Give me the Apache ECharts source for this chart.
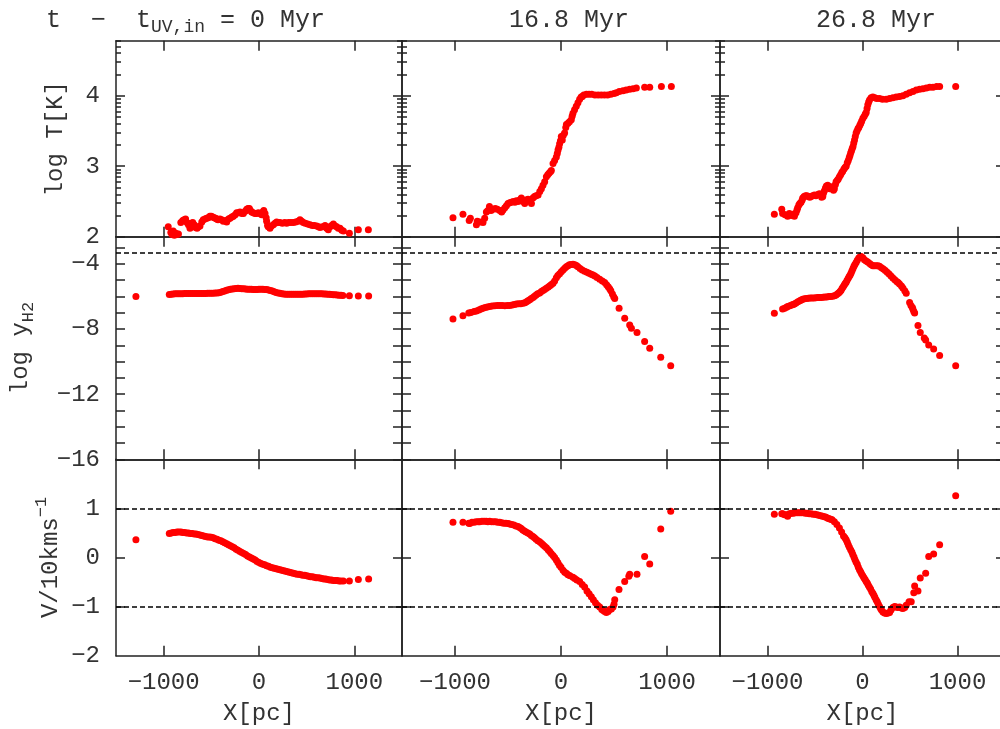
<!DOCTYPE html>
<html>
<head>
<meta charset="utf-8">
<script src="https://cdn.jsdelivr.net/npm/echarts@6/dist/echarts.min.js"></script>
<style>
  html, body { margin: 0; padding: 0; background: #fff; }
  #chart { width: 1000px; height: 729px; }
</style>
</head>
<body>
<div id="chart"></div>
<script>
const FONT = 'Liberation Mono'
const INK = '#222'
const TXT = '#333'

// axis ticks / labels
const xTicks = [-1000, 0, 1000]
const tempTicks = [2, 3, 4]
const h2Ticks = [-16, -15, -14, -13, -12, -11, -10, -9, -8, -7, -6, -5, -4, -3]
const h2Labels = [-16, -12, -8, -4]
const velTicks = [-1, 0, 1]
const velLabels = [-2, -1, 0, 1]
const h2Limit = [-3.3]
const velLimits = [-1, 1]
const titles = ['0', '16.8 Myr', '26.8 Myr']

// log T [K]  (x in pc)
const temp0 = [[-952,2.14],[-925,2.06],[-912,2.03],[-900,2.08],[-888,2.02],[-872,2.05],[-860,2.03],[-845,2.04],[-820,2.2],[-800,2.23],[-785,2.24],[-770,2.25],[-755,2.2],[-740,2.17],[-724,2.12],[-710,2.19],[-695,2.2],[-680,2.17],[-665,2.13],[-650,2.12],[-635,2.14],[-619,2.15],[-600,2.21],[-585,2.24],[-567,2.25],[-550,2.26],[-532,2.27],[-515,2.29],[-500,2.29],[-486,2.28],[-470,2.27],[-455,2.26],[-444,2.25],[-430,2.24],[-410,2.25],[-392,2.24],[-375,2.22],[-355,2.23],[-339,2.21],[-320,2.25],[-304,2.26],[-285,2.28],[-269,2.29],[-250,2.31],[-234,2.34],[-215,2.34],[-199,2.35],[-180,2.33],[-164,2.33],[-145,2.36],[-129,2.39],[-115,2.4],[-101,2.4],[-90,2.37],[-77,2.35],[-60,2.34],[-42,2.33],[-25,2.33],[-7,2.34],[10,2.33],[28,2.31],[40,2.35],[50,2.37],[63,2.33],[75,2.27],[80,2.22],[90,2.16],[98,2.14],[115,2.12],[130,2.15],[150,2.17],[168,2.19],[185,2.21],[200,2.2],[220,2.2],[245,2.19],[270,2.2],[290,2.19],[310,2.2],[335,2.2],[360,2.2],[385,2.21],[410,2.22],[430,2.24],[448,2.22],[465,2.2],[485,2.19],[510,2.18],[535,2.17],[560,2.16],[580,2.16],[605,2.15],[625,2.14],[640,2.13],[665,2.14],[693,2.16],[710,2.12],[727,2.1],[745,2.14],[762,2.16],[780,2.18],[798,2.15],[815,2.14],[832,2.12],[850,2.12],[868,2.09],[885,2.08],[948,2.05],[1042,2.1],[1147,2.1]]
const temp16 = [[-1019,2.27],[-925,2.32],[-866,2.23],[-855,2.26],[-798,2.17],[-790,2.22],[-765,2.21],[-736,2.2],[-720,2.26],[-704,2.35],[-690,2.37],[-675,2.43],[-660,2.37],[-640,2.39],[-620,2.4],[-600,2.39],[-578,2.37],[-560,2.35],[-547,2.38],[-530,2.41],[-515,2.44],[-500,2.47],[-484,2.48],[-468,2.49],[-450,2.5],[-435,2.49],[-421,2.51],[-405,2.5],[-390,2.52],[-374,2.55],[-358,2.5],[-342,2.47],[-330,2.52],[-311,2.53],[-295,2.51],[-279,2.47],[-265,2.55],[-250,2.57],[-235,2.58],[-216,2.59],[-200,2.64],[-185,2.68],[-170,2.73],[-154,2.78],[-138,2.85],[-125,2.88],[-113,2.9],[-100,2.92],[-91,2.94],[-75,3.04],[-60,3.08],[-44,3.13],[-35,3.18],[-28,3.23],[-20,3.27],[-13,3.32],[-5,3.36],[3,3.42],[12,3.37],[22,3.44],[34,3.47],[45,3.55],[51,3.59],[66,3.61],[80,3.63],[97,3.66],[105,3.71],[113,3.75],[128,3.8],[144,3.85],[160,3.9],[176,3.95],[190,3.98],[201,3.99],[215,4.01],[240,4.02],[265,4.02],[290,4.02],[320,4.01],[350,4.01],[380,4.01],[410,4.01],[440,4.01],[470,4.02],[500,4.03],[522,4.04],[550,4.06],[585,4.07],[615,4.08],[648,4.09],[680,4.1],[711,4.11],[789,4.12],[837,4.12],[947,4.13],[1041,4.13]]
const temp26 = [[-928,2.32],[-850,2.39],[-841,2.33],[-815,2.31],[-788,2.29],[-770,2.33],[-750,2.3],[-735,2.32],[-717,2.29],[-700,2.34],[-690,2.38],[-682,2.41],[-670,2.45],[-660,2.47],[-647,2.49],[-635,2.52],[-629,2.55],[-615,2.57],[-600,2.58],[-585,2.58],[-570,2.57],[-555,2.56],[-542,2.57],[-525,2.58],[-506,2.59],[-490,2.58],[-470,2.6],[-454,2.61],[-440,2.59],[-430,2.56],[-418,2.57],[-410,2.62],[-401,2.65],[-390,2.69],[-380,2.72],[-366,2.73],[-355,2.7],[-345,2.68],[-331,2.71],[-320,2.69],[-305,2.66],[-296,2.68],[-285,2.74],[-278,2.78],[-265,2.8],[-255,2.82],[-243,2.85],[-230,2.88],[-218,2.91],[-208,2.93],[-195,2.96],[-184,2.98],[-172,3.0],[-160,3.05],[-150,3.08],[-140,3.12],[-132,3.15],[-124,3.19],[-116,3.22],[-108,3.25],[-100,3.28],[-92,3.33],[-84,3.37],[-76,3.42],[-67,3.47],[-58,3.5],[-48,3.53],[-39,3.55],[-28,3.58],[-18,3.61],[-8,3.64],[4,3.68],[18,3.71],[30,3.74],[39,3.76],[48,3.82],[56,3.87],[65,3.91],[74,3.94],[90,3.97],[109,3.98],[130,3.97],[150,3.96],[179,3.96],[210,3.95],[250,3.95],[285,3.96],[320,3.97],[355,3.98],[390,3.99],[425,4.0],[460,4.02],[495,4.04],[531,4.06],[566,4.08],[601,4.09],[636,4.1],[672,4.11],[707,4.12],[742,4.12],[780,4.13],[812,4.13],[981,4.13]]

// log y_H2
const h2a = [[-1291,-6.0],[-941,-5.88],[-920,-5.86],[-900,-5.85],[-880,-5.84],[-860,-5.84],[-840,-5.83],[-820,-5.83],[-800,-5.83],[-780,-5.82],[-760,-5.82],[-740,-5.82],[-720,-5.82],[-700,-5.82],[-680,-5.82],[-660,-5.82],[-640,-5.82],[-620,-5.82],[-600,-5.82],[-580,-5.82],[-560,-5.82],[-540,-5.81],[-520,-5.81],[-500,-5.8],[-480,-5.8],[-460,-5.79],[-440,-5.78],[-420,-5.77],[-400,-5.74],[-380,-5.7],[-360,-5.66],[-340,-5.62],[-320,-5.59],[-300,-5.56],[-280,-5.54],[-260,-5.52],[-240,-5.51],[-220,-5.5],[-200,-5.51],[-180,-5.52],[-160,-5.53],[-140,-5.54],[-120,-5.55],[-100,-5.56],[-80,-5.56],[-60,-5.57],[-40,-5.57],[-20,-5.57],[0,-5.56],[20,-5.56],[40,-5.56],[60,-5.57],[80,-5.58],[100,-5.6],[120,-5.63],[140,-5.67],[160,-5.71],[180,-5.75],[200,-5.78],[220,-5.81],[240,-5.83],[260,-5.85],[280,-5.86],[300,-5.87],[320,-5.87],[340,-5.87],[360,-5.87],[380,-5.87],[400,-5.87],[420,-5.87],[440,-5.86],[460,-5.86],[480,-5.85],[500,-5.85],[520,-5.84],[540,-5.84],[560,-5.84],[580,-5.84],[600,-5.84],[620,-5.84],[640,-5.84],[660,-5.84],[680,-5.85],[700,-5.85],[720,-5.86],[740,-5.87],[760,-5.88],[780,-5.89],[800,-5.9],[820,-5.91],[840,-5.92],[860,-5.93],[880,-5.94],[948,-5.96],[1042,-5.97],[1150,-5.97]]
const h2b = [[-1019,-7.38],[-925,-7.19],[-870,-7.02],[-850,-6.99],[-820,-6.93],[-798,-6.89],[-775,-6.83],[-755,-6.77],[-736,-6.72],[-715,-6.68],[-695,-6.64],[-673,-6.62],[-650,-6.59],[-625,-6.57],[-600,-6.56],[-578,-6.56],[-555,-6.56],[-530,-6.57],[-505,-6.56],[-484,-6.55],[-460,-6.52],[-440,-6.49],[-421,-6.47],[-400,-6.45],[-380,-6.44],[-358,-6.42],[-340,-6.38],[-325,-6.33],[-311,-6.27],[-295,-6.2],[-280,-6.13],[-264,-6.06],[-250,-5.99],[-235,-5.91],[-220,-5.84],[-201,-5.78],[-185,-5.7],[-170,-5.63],[-155,-5.57],[-138,-5.5],[-120,-5.42],[-105,-5.34],[-90,-5.27],[-75,-5.19],[-60,-5.05],[-44,-4.85],[-30,-4.72],[-13,-4.6],[3,-4.48],[19,-4.37],[35,-4.26],[50,-4.18],[66,-4.11],[80,-4.06],[95,-4.03],[113,-4.02],[130,-4.05],[145,-4.1],[160,-4.17],[180,-4.28],[200,-4.37],[223,-4.45],[245,-4.52],[265,-4.58],[285,-4.63],[302,-4.68],[320,-4.75],[340,-4.84],[365,-4.95],[390,-5.05],[412,-5.15],[430,-5.28],[445,-5.4],[459,-5.52],[470,-5.65],[485,-5.85],[497,-6.02],[507,-6.12],[548,-6.72],[601,-7.34],[648,-7.75],[664,-7.95],[717,-8.22],[789,-8.77],[837,-9.18],[941,-9.73],[1035,-10.25]]
const h2c = [[-928,-7.03],[-841,-6.77],[-820,-6.72],[-800,-6.66],[-788,-6.62],[-765,-6.57],[-745,-6.52],[-730,-6.5],[-717,-6.46],[-700,-6.4],[-680,-6.33],[-660,-6.27],[-645,-6.22],[-629,-6.17],[-610,-6.14],[-590,-6.12],[-570,-6.11],[-550,-6.1],[-530,-6.09],[-510,-6.09],[-490,-6.08],[-470,-6.07],[-454,-6.07],[-435,-6.06],[-415,-6.05],[-395,-6.04],[-375,-6.03],[-355,-6.01],[-335,-6.0],[-315,-5.99],[-295,-5.96],[-278,-5.91],[-262,-5.84],[-248,-5.77],[-236,-5.7],[-225,-5.62],[-214,-5.5],[-203,-5.4],[-192,-5.3],[-182,-5.21],[-172,-5.12],[-162,-5.0],[-150,-4.88],[-140,-4.78],[-130,-4.68],[-120,-4.56],[-110,-4.42],[-100,-4.28],[-90,-4.15],[-80,-4.04],[-67,-3.92],[-55,-3.78],[-40,-3.64],[-25,-3.56],[-14,-3.54],[4,-3.62],[20,-3.74],[38,-3.82],[56,-3.88],[75,-3.97],[92,-4.05],[109,-4.12],[125,-4.12],[145,-4.11],[162,-4.12],[179,-4.14],[200,-4.23],[220,-4.32],[240,-4.41],[260,-4.51],[280,-4.62],[300,-4.74],[320,-4.87],[340,-4.98],[360,-5.08],[375,-5.15],[390,-5.23],[410,-5.36],[425,-5.48],[445,-5.65],[460,-5.8],[496,-6.37],[510,-6.55],[525,-6.68],[531,-6.78],[540,-6.92],[549,-7.02],[584,-7.79],[608,-8.22],[650,-8.55],[665,-8.67],[697,-8.98],[749,-9.22],[812,-9.63],[981,-10.25]]

// V / 10 km/s
const vel0 = [[-1291,0.36],[-941,0.49],[-920,0.5],[-900,0.51],[-880,0.51],[-860,0.52],[-840,0.52],[-818,0.52],[-800,0.51],[-780,0.51],[-760,0.5],[-740,0.5],[-720,0.49],[-700,0.49],[-680,0.48],[-660,0.48],[-640,0.47],[-619,0.46],[-600,0.45],[-580,0.44],[-560,0.43],[-540,0.42],[-520,0.42],[-500,0.41],[-479,0.4],[-460,0.38],[-440,0.37],[-420,0.35],[-400,0.34],[-380,0.32],[-360,0.3],[-339,0.28],[-320,0.26],[-300,0.24],[-280,0.22],[-260,0.2],[-240,0.17],[-220,0.15],[-199,0.12],[-180,0.1],[-160,0.08],[-140,0.06],[-120,0.03],[-100,0.01],[-80,-0.01],[-60,-0.03],[-40,-0.05],[-20,-0.08],[0,-0.1],[20,-0.12],[40,-0.14],[60,-0.15],[80,-0.17],[100,-0.18],[120,-0.2],[140,-0.21],[160,-0.22],[180,-0.23],[200,-0.24],[220,-0.25],[240,-0.26],[260,-0.27],[280,-0.28],[300,-0.29],[320,-0.3],[340,-0.31],[360,-0.32],[380,-0.33],[400,-0.34],[420,-0.34],[440,-0.35],[460,-0.36],[480,-0.36],[500,-0.37],[520,-0.38],[540,-0.39],[560,-0.39],[580,-0.4],[600,-0.41],[620,-0.41],[640,-0.42],[660,-0.43],[680,-0.44],[700,-0.44],[720,-0.45],[740,-0.46],[760,-0.46],[780,-0.47],[800,-0.47],[820,-0.47],[840,-0.48],[860,-0.48],[885,-0.48],[948,-0.48],[1042,-0.45],[1150,-0.44]]
const vel16 = [[-1019,0.72],[-925,0.72],[-870,0.7],[-861,0.69],[-840,0.72],[-820,0.72],[-800,0.73],[-780,0.73],[-767,0.73],[-745,0.74],[-725,0.74],[-705,0.74],[-690,0.73],[-673,0.74],[-655,0.73],[-635,0.73],[-615,0.73],[-597,0.72],[-578,0.72],[-560,0.71],[-540,0.7],[-520,0.7],[-500,0.69],[-484,0.68],[-465,0.67],[-445,0.66],[-425,0.64],[-405,0.63],[-390,0.61],[-375,0.59],[-360,0.56],[-345,0.54],[-330,0.52],[-312,0.5],[-295,0.48],[-280,0.45],[-265,0.43],[-250,0.4],[-235,0.37],[-218,0.34],[-201,0.32],[-185,0.29],[-170,0.26],[-155,0.23],[-138,0.2],[-122,0.16],[-107,0.12],[-92,0.08],[-75,0.04],[-60,0.0],[-44,-0.05],[-30,-0.1],[-15,-0.16],[0,-0.2],[19,-0.26],[35,-0.3],[51,-0.32],[66,-0.35],[85,-0.37],[113,-0.4],[130,-0.43],[150,-0.46],[176,-0.49],[200,-0.55],[223,-0.6],[245,-0.68],[265,-0.74],[286,-0.8],[305,-0.86],[325,-0.92],[345,-0.97],[365,-1.01],[385,-1.06],[400,-1.08],[412,-1.1],[428,-1.12],[445,-1.1],[459,-1.06],[475,-1.05],[491,-1.01],[500,-0.95],[507,-0.86],[547,-0.65],[601,-0.49],[640,-0.38],[648,-0.34],[717,-0.34],[789,0.02],[837,-0.13],[941,0.58],[1035,0.94]]
const vel26 = [[-928,0.88],[-850,0.89],[-841,0.89],[-820,0.87],[-800,0.87],[-788,0.84],[-770,0.89],[-750,0.9],[-730,0.9],[-715,0.91],[-700,0.91],[-680,0.91],[-660,0.91],[-640,0.91],[-620,0.91],[-600,0.9],[-580,0.9],[-560,0.89],[-540,0.89],[-520,0.88],[-500,0.88],[-480,0.87],[-460,0.86],[-440,0.85],[-420,0.84],[-400,0.83],[-383,0.82],[-365,0.8],[-350,0.79],[-335,0.78],[-320,0.77],[-296,0.73],[-270,0.67],[-243,0.6],[-220,0.52],[-200,0.44],[-185,0.4],[-172,0.36],[-160,0.31],[-150,0.26],[-138,0.21],[-125,0.16],[-112,0.11],[-102,0.06],[-90,0.01],[-80,-0.04],[-68,-0.09],[-55,-0.14],[-44,-0.2],[-32,-0.25],[-20,-0.29],[-10,-0.33],[3,-0.37],[15,-0.41],[27,-0.45],[39,-0.49],[50,-0.52],[60,-0.56],[72,-0.6],[85,-0.64],[97,-0.69],[109,-0.73],[120,-0.77],[130,-0.81],[143,-0.86],[155,-0.9],[167,-0.95],[179,-1.0],[190,-1.04],[200,-1.07],[215,-1.11],[232,-1.13],[250,-1.14],[270,-1.13],[285,-1.12],[300,-1.07],[320,-1.02],[338,-1.0],[355,-1.01],[372,-1.02],[390,-1.01],[410,-1.03],[425,-1.04],[445,-1.02],[460,-0.97],[490,-0.9],[513,-0.9],[540,-0.72],[549,-0.58],[584,-0.68],[608,-0.42],[665,-0.32],[697,0.02],[749,0.07],[812,0.26],[981,1.26]]

const panelData = [[temp0, temp16, temp26], [h2a, h2b, h2c], [vel0, vel16, vel26]]

// layout (px)
const cols = [{ left: 116, width: 286 }, { left: 402, width: 318 }, { left: 720, width: 285 }]
const rows = [{ top: 40.7, height: 196 }, { top: 236.7, height: 222.6 }, { top: 459.3, height: 196.4 }]
const yRange = [[2, 4.78], [-16, -2.33], [-2, 2]]

// log-spaced minor ticks of the temperature axis
const tempMinor = []
tempTicks.forEach(n => {
  for (let k = 2; k <= 9; k++) {
    const v = n + Math.log10(k)
    if (v < yRange[0][1]) tempMinor.push(v)
  }
})

const minus = v => (v < 0 ? '\u2212' + Math.abs(v) : String(v))
const lineStyle = { color: INK, width: 1.5 }
const labelStyle = { fontFamily: FONT, fontSize: 24, color: TXT, fontWeight: 'normal' }

const majorTicks = [tempTicks, h2Ticks, velTicks]
const yLabels = [tempTicks, h2Labels, velLabels]
const yNames = ['log T[K]', '{a|log y}{s|H2}', '{a|V/10kms}{p|\u22121}']
const yGaps = [48, 80, 50]

const grid = []
const xAxis = []
const yAxis = []
const series = []

rows.forEach((row, r) => {
  cols.forEach((col, c) => {
    const g = grid.length
    grid.push({ left: col.left, top: row.top, width: col.width, height: row.height, outerBoundsMode: 'none', containLabel: false })

    const xi = xAxis.length
    ;['bottom', 'top'].forEach(pos => {
      const showLab = pos === 'bottom' && r === 2
      xAxis.push({
        type: 'value', gridIndex: g, position: pos, min: -1500, max: 1500,
        axisLine: { show: true, onZero: false, lineStyle },
        axisTick: { show: true, inside: true, length: 10, customValues: xTicks, lineStyle },
        axisLabel: Object.assign({ show: showLab, customValues: xTicks, margin: 15, formatter: minus }, labelStyle),
        splitLine: { show: false },
        name: showLab ? 'X[pc]' : '',
        nameLocation: 'middle', nameGap: 46, nameTextStyle: labelStyle
      })
    })

    const yi = yAxis.length
    ;['left', 'right'].forEach(pos => {
      const showLab = pos === 'left' && c === 0
      yAxis.push({
        type: 'value', gridIndex: g, position: pos, min: yRange[r][0], max: yRange[r][1],
        axisLine: { show: true, onZero: false, lineStyle },
        axisTick: { show: true, inside: true, length: 9, customValues: majorTicks[r], lineStyle },
        axisLabel: Object.assign({ show: showLab, customValues: yLabels[r], margin: 16, formatter: minus }, labelStyle),
        splitLine: { show: false },
        name: showLab ? yNames[r] : '',
        nameLocation: 'middle', nameRotate: 90, nameGap: yGaps[r], nameMoveOverlap: false,
        nameTextStyle: Object.assign({
          rich: {
            a: { fontFamily: FONT, fontSize: 24, color: TXT, lineHeight: 30 },
            s: { fontFamily: FONT, fontSize: 17, color: TXT, lineHeight: 16, padding: [14, 0, 0, 0] },
            p: { fontFamily: FONT, fontSize: 17, color: TXT, lineHeight: 16, padding: [0, 0, 20, 0] }
          }
        }, labelStyle)
      })
      if (r === 0) {
        yAxis.push({
          type: 'value', gridIndex: g, position: pos, min: yRange[r][0], max: yRange[r][1],
          axisLine: { show: false, onZero: false },
          axisTick: { show: true, inside: true, length: 5, customValues: tempMinor, lineStyle },
          axisLabel: { show: false },
          splitLine: { show: false }
        })
      }
    })

    const limits = r === 1 ? h2Limit : r === 2 ? velLimits : []
    series.push({
      type: 'scatter',
      xAxisIndex: xi,
      yAxisIndex: yi,
      data: panelData[r][c],
      symbol: 'circle',
      symbolSize: 7,
      itemStyle: { color: '#ff0000', opacity: 1 },
      emphasis: { disabled: true },
      silent: true,
      markLine: limits.length ? {
        silent: true,
        symbol: 'none',
        label: { show: false },
        lineStyle: { color: '#000', width: 1.5, type: [5, 3] },
        data: limits.map(v => ({ yAxis: v }))
      } : undefined
    })
  })
})

const titleStyle = {
  fontFamily: FONT, fontSize: 25, fontWeight: 'normal', color: TXT, lineHeight: 30,
  rich: {
    a: { fontFamily: FONT, fontSize: 25, fontWeight: 'normal', color: TXT, lineHeight: 30 },
    s: { fontFamily: FONT, fontSize: 18, fontWeight: 'normal', color: TXT, lineHeight: 16, padding: [14, 0, 0, 0] }
  }
}

const chart = echarts.init(document.getElementById('chart'), null, { renderer: 'canvas' })
chart.setOption({
  animation: false,
  backgroundColor: '#fff',
  title: [
    { text: '{a|t  \u2212  t}{s|UV,in}{a| = ' + titles[0] + ' Myr}', left: 46, top: 5, padding: 0, textStyle: titleStyle },
    { text: titles[1], left: 509, top: 5, padding: 0, textStyle: titleStyle },
    { text: titles[2], left: 816, top: 5, padding: 0, textStyle: titleStyle }
  ],
  grid,
  xAxis,
  yAxis,
  series
})
</script>
</body>
</html>
